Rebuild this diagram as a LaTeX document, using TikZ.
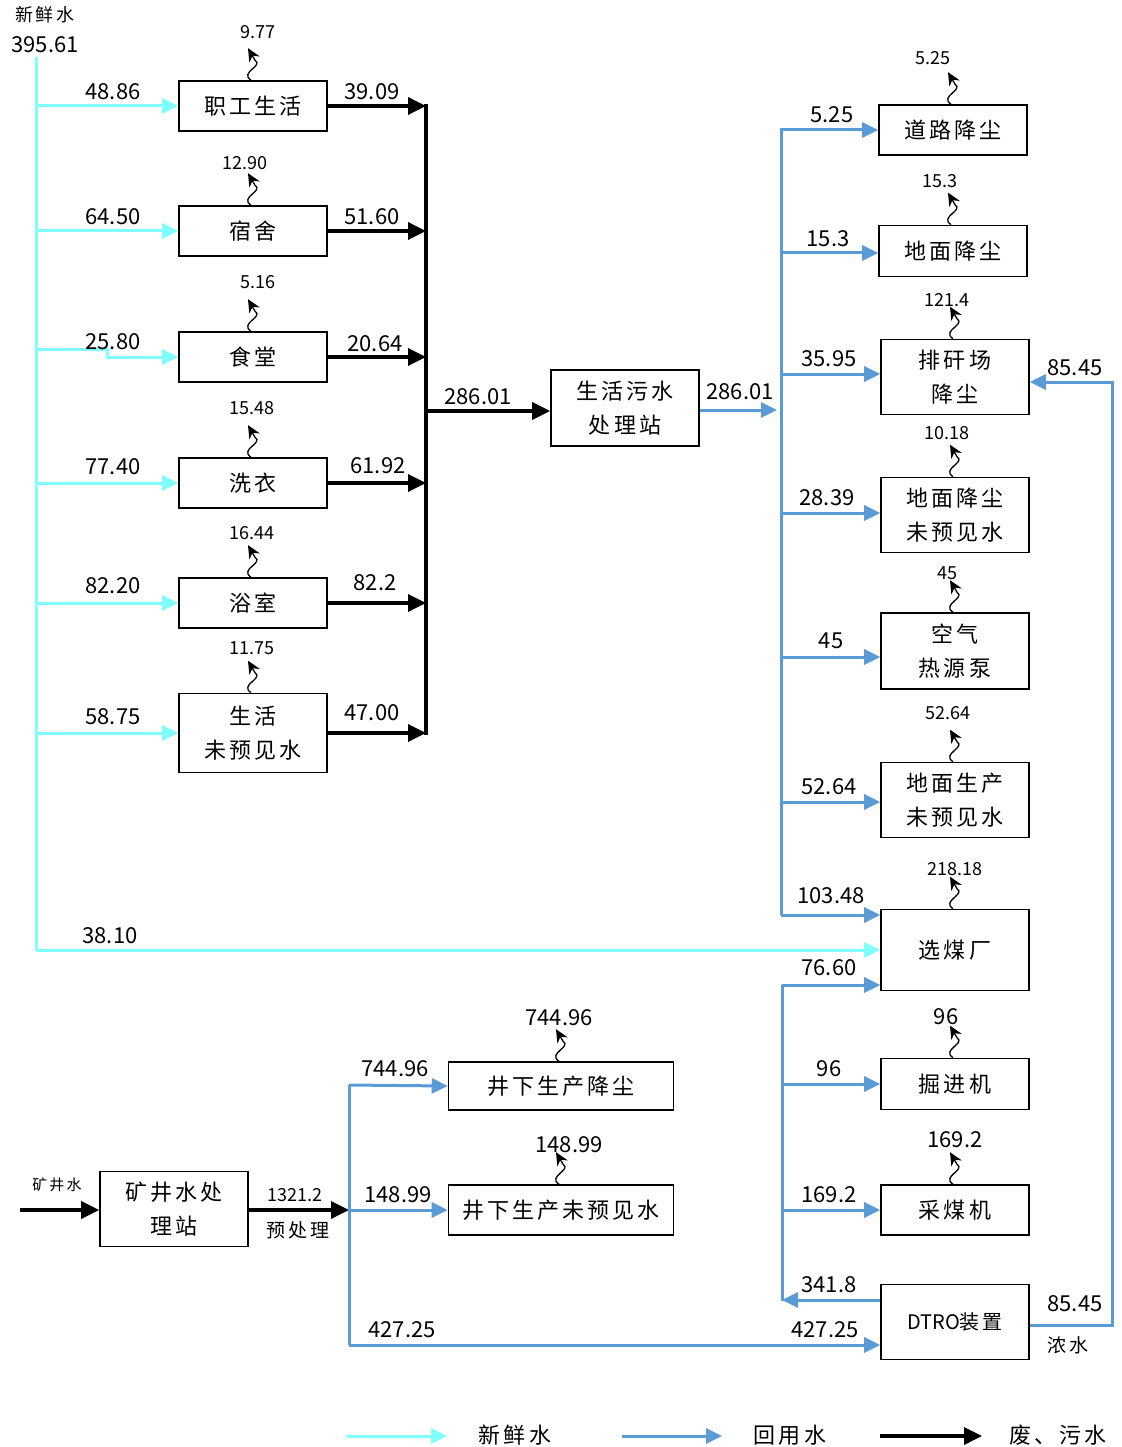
\documentclass[tikz,border=0pt]{standalone}
\usepackage{fontspec}
\setmainfont{Noto Sans CJK SC}
\newfontfamily\kai[LetterSpace=14]{Noto Sans CJK SC}
\newfontfamily\plainf{Noto Sans CJK SC}
\usetikzlibrary{arrows.meta}
\definecolor{fresh}{RGB}{128,255,255}
\definecolor{reuse}{RGB}{91,155,213}
\begin{document}
\begin{tikzpicture}[x=1pt,y=-1pt,
 box/.style={draw, line width=1.6pt, minimum width=148pt, minimum height=50pt, font=\kai\fontsize{22}{34}\selectfont, align=center, inner sep=0pt},
 num/.style={font=\fontsize{22}{24}\selectfont, inner sep=0pt},
 sm/.style={font=\fontsize{18}{20}\selectfont, inner sep=0pt},
 fw/.style={draw=fresh, line width=3pt, -{Triangle[length=16pt,width=15pt]}},
 fl/.style={draw=fresh, line width=3pt},
 bw/.style={draw=reuse, line width=3pt, -{Triangle[length=16pt,width=15pt]}},
 bl/.style={draw=reuse, line width=3pt},
 kw/.style={draw=black, line width=3.5pt, -{Triangle[length=18pt,width=17pt]}},
 kl/.style={draw=black, line width=3.5pt},
 sq/.style={draw=black, line width=1.3pt, -{Stealth[length=13pt,width=12pt]}}
]
\useasboundingbox (0,0) rectangle (1121,1447);
\newcommand\squig[1]{\draw[sq] ([xshift=-2pt]#1.north) .. controls +(-12,-8) and +(9,6) .. ++(4,-20) -- ++(-7,-12);}

% ---------- left boxes ----------
\node[box] (zg) at (253,106) {职工生活};
\node[box] (ss) at (253,231) {宿舍};
\node[box] (st) at (253,357) {食堂};
\node[box] (xy) at (253,483) {洗衣};
\node[box] (ys) at (253,603) {浴室};
\node[box, minimum height=79pt] (sh) at (253,733) {生活\\未预见水};
\node[box, minimum height=76pt] (ws) at (625,408) {生活污水\\处理站};

% ---------- right boxes ----------
\node[box] (dl) at (953,130) {道路降尘};
\node[box, minimum height=51pt] (dm) at (953,251) {地面降尘};
\node[box, minimum height=75pt] (pg) at (955,377) {排矸场\\降尘};
\node[box, minimum height=75pt] (dw) at (955,515) {地面降尘\\未预见水};
\node[box, minimum height=76pt] (kq) at (955,651) {空气\\热源泵};
\node[box, minimum height=75pt] (ds) at (955,800) {地面生产\\未预见水};
\node[box, minimum height=81pt] (xm) at (955,950) {选煤厂};
\node[box, minimum height=51pt] (jj) at (955,1084) {掘进机};
\node[box] (cm) at (955,1210) {采煤机};
\node[box, minimum height=75pt, font=\plainf\fontsize{20}{26}\selectfont] (dt) at (955,1322) {DTRO{\kai 装置}};

% ---------- bottom left boxes ----------
\node[box, minimum height=75pt] (kj) at (174,1209) {矿井水处\\理站};
\node[box, minimum width=225pt, minimum height=48pt] (jx) at (561,1086) {井下生产降尘};
\node[box, minimum width=225pt] (jw) at (561,1210) {井下生产未预见水};

% ---------- fresh water ----------
\node[sm, font=\kai\fontsize{18}{20}\selectfont] (fwt) at (45,15) {新鲜水};
\node[num] (fwn) at (45,45) {395.61};
\coordinate (f0) at (36,57);
\coordinate (f1) at (36,950);
\draw[fl] (f0) -- (f1);
\draw[fw] (f1) -- (xm.west);
\draw[fw] (zg.west -| f0) -- (zg.west);
\draw[fw] (ss.west -| f0) -- (ss.west);
\draw[fw] ([yshift=8pt]st.west -| f0) -- ([yshift=8pt,xshift=-71pt]st.west) -- ([xshift=-71pt]st.west) -- (st.west);
\draw[fw] (xy.west -| f0) -- (xy.west);
\draw[fw] (ys.west -| f0) -- (ys.west);
\draw[fw] (sh.west -| f0) -- (sh.west);
\node[num] (a1) at (113,92) {48.86};
\node[num] (a2) at (113,217) {64.50};
\node[num] (a3) at (113,342) {25.80};
\node[num] (a4) at (113,467) {77.40};
\node[num] (a5) at (113,586) {82.20};
\node[num] (a6) at (113,717) {58.75};
\node[num] (a7) at (110,936) {38.10};

% ---------- black collector ----------
\coordinate (bc) at (426,104);
\coordinate (bc2) at (426,735);
\draw[kl] (bc) -- (bc2);
\draw[kw] (zg.east) -- (zg.east -| bc);
\draw[kw] (ss.east) -- (ss.east -| bc);
\draw[kw] (st.east) -- (st.east -| bc);
\draw[kw] (xy.east) -- (xy.east -| bc);
\draw[kw] (ys.east) -- (ys.east -| bc);
\draw[kw] (sh.east) -- (sh.east -| bc);
\draw[kw] ([yshift=-3pt]ws.west -| bc) -- ([yshift=-3pt]ws.west);
\node[num] (b1) at (372,92) {39.09};
\node[num] (b2) at (372,217) {51.60};
\node[num] (b3) at (375,344) {20.64};
\node[num] (b4) at (378,466) {61.92};
\node[num] (b5) at (375,583) {82.2};
\node[num] (b6) at (372,713) {47.00};
\node[num] (b7) at (478,397) {286.01};

% ---------- squiggles left ----------
\squig{zg} \node[sm] (c1) at (258,32) {9.77};
\squig{ss} \node[sm] (c2) at (245,163) {12.90};
\squig{st} \node[sm] (c3) at (258,282) {5.16};
\squig{xy} \node[sm] (c4) at (252,408) {15.48};
\squig{ys} \node[sm] (c5) at (252,533) {16.44};
\squig{sh} \node[sm] (c6) at (252,648) {11.75};

% ---------- reuse network ----------
\coordinate (r1) at (781,128);
\coordinate (r1b) at (781,915);
\draw[bw] ([yshift=-2pt]ws.east) -- ([yshift=-2pt,xshift=-4pt]ws.east -| r1);
\node[num] (d0) at (740,392) {286.01};
\draw[bl] (r1) -- (r1b);
\draw[bw] (dl.west -| r1) -- (dl.west);
\draw[bw] ([yshift=-2pt]dm.west -| r1) -- ([yshift=-2pt]dm.west);
\draw[bw] ([yshift=3pt]pg.west -| r1) -- ([yshift=3pt]pg.west);
\draw[bw] ([yshift=2pt]dw.west -| r1) -- ([yshift=2pt]dw.west);
\draw[bw] ([yshift=-6pt]kq.west -| r1) -- ([yshift=-6pt]kq.west);
\draw[bw] ([yshift=-2pt]ds.west -| r1) -- ([yshift=-2pt]ds.west);
\draw[bw] (r1b) -- ([yshift=35pt]xm.west);
\node[num] (d1) at (832,115) {5.25};
\node[num] (d2) at (828,239) {15.3};
\node[num] (d3) at (829,359) {35.95};
\node[num] (d4) at (827,498) {28.39};
\node[num] (d5) at (831,641) {45};
\node[num] (d6) at (829,787) {52.64};
\node[num] (d7) at (831,896) {103.48};
\node[num] (d8) at (829,968) {76.60};

\coordinate (r2) at (782,985);
\coordinate (r2b) at (782,1301);
\draw[bl] (r2) -- (r2b);
\draw[bw] (r2) -- ([yshift=-35pt]xm.west);
\draw[bw] (jj.west -| r2) -- (jj.west);
\draw[bw] (cm.west -| r2) -- (cm.west);
\draw[bw] ([yshift=22pt]dt.west) -- ([yshift=22pt]dt.west -| r2);
\node[num] (e1) at (829,1069) {96};
\node[num] (e2) at (829,1195) {169.2};
\node[num] (e3) at (829,1285) {341.8};

% ---------- squiggles right ----------
\squig{dl} \node[sm] (g1) at (933,58) {5.25};
\squig{dm} \node[sm] (g2) at (940,181) {15.3};
\squig{pg} \node[sm] (g3) at (947,300) {121.4};
\squig{dw} \node[sm] (g4) at (947,433) {10.18};
\squig{kq} \node[sm] (g5) at (947,573) {45};
\squig{ds} \node[sm] (g6) at (948,713) {52.64};
\squig{xm} \node[sm] (g7) at (955,869) {218.18};
\squig{jj} \node[num] (g8) at (946,1017) {96};
\squig{cm} \node[num] (g9) at (955,1140) {169.2};

% ---------- concentrate return ----------
\coordinate (rt) at (1112,1325);
\draw[bw] ([yshift=-3pt]dt.east) -- (rt) -- (rt |- 0,382) -- ([yshift=-5pt]pg.east);
\node[num] (h1) at (1075,1304) {85.45};
\node[sm, font=\kai\fontsize{19}{20}\selectfont] (h2) at (1068,1345) {浓水};
\node[num] (h3) at (1075,368) {85.45};

% ---------- mine water ----------
\coordinate (mw) at (20,1210);
\node[sm, font=\kai\fontsize{15}{18}\selectfont] (mwt) at (57,1185) {矿井水};
\draw[kw] (mw) -- ([yshift=-1pt]kj.west);
\coordinate (p0) at (349,1210);
\draw[kw] ([yshift=-1pt]kj.east) -- (p0);
\node[sm] (p1) at (295,1195) {1321.2};
\node[sm, font=\kai\fontsize{19}{20}\selectfont] (p2) at (298,1230) {预处理};
\coordinate (q0) at (349,1085);
\coordinate (q1) at (349,1345);
\draw[bl] (q0) -- (q1);
\draw[bw] (q0) -- (jx.west);
\draw[bw] (p0) -- (jw.west);
\draw[bw] (q1) -- ([yshift=-23pt]dt.west);
\node[num] (k1) at (395,1069) {744.96};
\node[num] (k2) at (398,1195) {148.99};
\node[num] (k3) at (402,1330) {427.25};
\node[num] (k4) at (825,1330) {427.25};
\squig{jx} \node[num] (k5) at (559,1018) {744.96};
\squig{jw} \node[num] (k6) at (569,1145) {148.99};

% ---------- legend ----------
\coordinate (l1) at (347,1436);
\coordinate (l2) at (447,1436);
\coordinate (l3) at (622,1436);
\coordinate (l4) at (722,1436);
\coordinate (l5) at (880,1436);
\coordinate (l6) at (982,1436);
\draw[fw] (l1) -- (l2);
\draw[bw] (l3) -- (l4);
\draw[kw] (l5) -- (l6);
\node[box, draw=none, minimum width=0pt, minimum height=0pt] (m1) at (515,1435) {新鲜水};
\node[box, draw=none, minimum width=0pt, minimum height=0pt] (m2) at (790,1435) {回用水};
\node[box, draw=none, minimum width=0pt, minimum height=0pt] (m3) at (1058,1435) {废、污水};
\end{tikzpicture}
\end{document}
